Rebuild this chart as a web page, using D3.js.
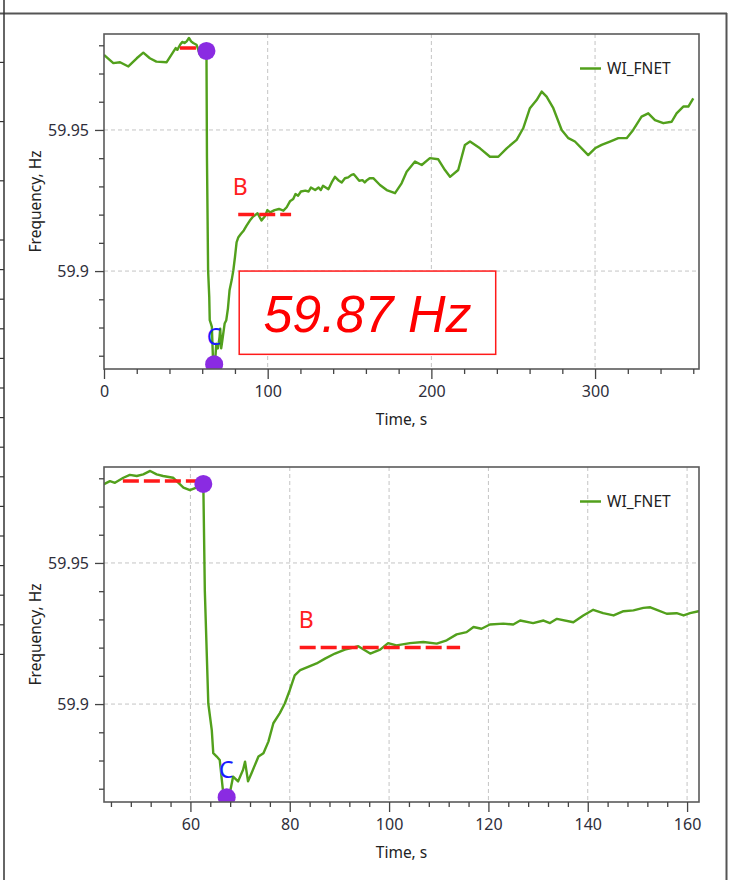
<!DOCTYPE html>
<html>
<head>
<meta charset="utf-8">
<script src="https://cdn.jsdelivr.net/npm/d3@7"></script>
<style>
  body { margin: 0; background: #fff; }
  svg { display: block; font-family: "Noto Sans", "Open Sans", sans-serif; }
</style>
</head>
<body>
<svg id="chart" width="731" height="880"></svg>
<script>
// WI_FNET frequency record, time in seconds, frequency in Hz
const times = [
  0, 5.7, 9.8, 14.9, 20, 24, 28, 32, 38.3,
  42.6, 43.8, 44.8, 46.5, 47.8, 49.2, 50.5, 51.9, 53.2, 54.5, 56.5, 58.6, 59.9, 61.2, 62.6,
  62.9, 63.6, 64.3, 64.6, 65.3, 65.9, 66.6, 67.3, 68.0, 68.6, 69.6, 70.6, 71.0, 71.6, 72.3,
  73.7, 74.7, 75.7, 76.7, 78.0, 79.0, 80.0, 81.0, 82.1, 83.7, 85.4, 87.1, 89.1, 91.1, 93.8,
  96.2, 98.2, 99.8, 101.5, 104.2, 106.9, 109.6, 111.6, 113.6, 115.6, 117.0, 118.6, 120.3,
  123.0, 125.0, 126.4, 129.0, 131.1, 132.4, 133.8, 137.1, 139.1, 141.1, 143.1, 145.2, 147.2,
  149.2, 151.2, 152.6, 153.9, 155.9, 157.9, 159.3, 160.6, 162.3,
  164.5, 168.6, 172.7, 177.8, 181.8, 184.9, 190, 194.1, 199.1, 204.2, 208.3, 211.4, 216.4,
  220.5, 223.6, 229.7, 235.8, 240.9, 246, 252.1, 256.1, 260.2, 264.3, 267.4, 270.4, 274.5,
  279.6, 283.7, 287.7, 291.8, 295.8, 300, 304, 309.1, 314.2, 319.3, 323.3, 328.4, 332.5,
  336.6, 341.7, 346.8, 349.8, 353.9, 357, 360
];
const freqs = [
  59.9766, 59.9737, 59.9740, 59.9725, 59.9754, 59.9774, 59.9754, 59.9742, 59.9740,
  59.9779, 59.9790, 59.9784, 59.9802, 59.9812, 59.9808, 59.9814, 59.9826, 59.9814, 59.9808, 59.9802, 59.9767, 59.9758, 59.9767, 59.9779,
  59.9402, 59.9002, 59.8908, 59.8826, 59.8814, 59.8802, 59.8685, 59.8667, 59.8690, 59.8743, 59.8726, 59.8767, 59.8796, 59.8726, 59.8755,
  59.8814, 59.8826, 59.8867, 59.8932, 59.8968, 59.9002, 59.9049, 59.9102, 59.9120, 59.9132, 59.9144, 59.9161, 59.9179, 59.9193, 59.9205,
  59.9179, 59.9193, 59.9216, 59.9208, 59.9216, 59.9220, 59.9214, 59.9226, 59.9247, 59.9255, 59.9273, 59.9267, 59.9282,
  59.9285, 59.9282, 59.9296, 59.9287, 59.9296, 59.9287, 59.9302, 59.9290, 59.9314, 59.9334, 59.9322, 59.9314, 59.9329,
  59.9332, 59.9341, 59.9343, 59.9334, 59.9320, 59.9322, 59.9314, 59.9322, 59.9329,
  59.9329, 59.9305, 59.9287, 59.9276, 59.9311, 59.9352, 59.9388, 59.9376, 59.9400, 59.9396, 59.9358, 59.9334, 59.9358,
  59.9447, 59.9459, 59.9435, 59.9405, 59.9405, 59.9435, 59.9465, 59.9506, 59.9577, 59.9606, 59.9636, 59.9618, 59.9577,
  59.9500, 59.9471, 59.9459, 59.9435, 59.9411, 59.9435, 59.9447, 59.9459, 59.9471, 59.9471, 59.9500, 59.9547, 59.9559,
  59.9535, 59.9524, 59.9529, 59.9559, 59.9583, 59.9583, 59.9612
];
const seriesName = "WI_FNET";

// Event markers: start of the drop (A) and the nadir (C)
const eventPoint = { t: 62.6, f: 59.978 };
const nadirPoint = { t: 67.3, f: 59.867 };
// Reference levels: pre-event (A) and settling (B)
const preLevel = { f: 59.979, t0: 46.4, t1: 61.6 };
const settleLevel = { f: 59.92, t0: 82, t1: 114.3 };
const labelB = { t: 83.3, f: 59.930, text: "B" };
const labelC = { t: 67.2, f: 59.877, text: "C" };

// Axis ticks
const yDomain = [59.8653, 59.984];
const yMajorTicks = [59.9, 59.95];
const yMinorTicks = d3.range(5987, 5999).map(v => v / 100);
const topXDomain = [0, 363.5];
const topXMajor = [0, 100, 200, 300];
const topXMinor = d3.range(0, 364, 20);
const botXDomain = [42.6, 162.4];
const botXMajor = [60, 80, 100, 120, 140, 160];
const botXMinor = d3.range(44, 163, 4);

const data = times.map((t, i) => ({ t, f: freqs[i] }));

const svg = d3.select("#chart");
const W = 731, H = 880;

// Surrounding window frame
const frameColor = "#555";
svg.append("line").attr("x1", 0).attr("x2", 727).attr("y1", 13.5).attr("y2", 13.5)
  .attr("stroke", frameColor).attr("stroke-width", 2);
svg.append("line").attr("x1", 4).attr("x2", 4).attr("y1", 0).attr("y2", H)
  .attr("stroke", "#333").attr("stroke-width", 1.5);
svg.append("line").attr("x1", 726.5).attr("x2", 726.5).attr("y1", 13).attr("y2", H)
  .attr("stroke", frameColor).attr("stroke-width", 2);
// ticks of the neighbouring axis at the left edge
const edgeTicks = d3.range(-6, 15).filter(k => k >= 0 || k % 2 === 0).map(k => 240 + k * 29.6);
svg.selectAll(".edge-tick").data(edgeTicks).join("line")
  .attr("x1", 0).attr("x2", 4).attr("y1", d => d).attr("y2", d => d)
  .attr("stroke", "#333").attr("stroke-width", 1.2);

let clipId = 0;
function panel(opt) {
  const { left, right, top, bottom, xDomain, xMajor, xMinor, showBox } = opt;
  const x = d3.scaleLinear().domain(xDomain).range([left, right]);
  const y = d3.scaleLinear().domain(yDomain).range([bottom, top]);
  const g = svg.append("g");

  const cid = "clip" + (clipId++);
  g.append("clipPath").attr("id", cid).append("rect")
    .attr("x", left).attr("y", top).attr("width", right - left).attr("height", bottom - top);

  // dashed grid
  const grid = g.append("g").attr("stroke", "#c4c4c4").attr("stroke-dasharray", "4,3").attr("stroke-width", 1);
  grid.selectAll(".gx").data(xMajor.filter(v => v > xDomain[0])).join("line")
    .attr("x1", d => x(d)).attr("x2", d => x(d)).attr("y1", top).attr("y2", bottom);
  grid.selectAll(".gy").data(yMajorTicks).join("line")
    .attr("x1", left).attr("x2", right).attr("y1", d => y(d)).attr("y2", d => y(d));

  const plot = g.append("g").attr("clip-path", `url(#${cid})`);

  // frequency trace
  plot.append("path").datum(data)
    .attr("fill", "none").attr("stroke", "#52a01c").attr("stroke-width", 2.4)
    .attr("stroke-linejoin", "round")
    .attr("d", d3.line().x(d => x(d.t)).y(d => y(d.f)));

  // reference levels
  [preLevel, settleLevel].forEach(l => {
    plot.append("line")
      .attr("x1", x(l.t0)).attr("x2", x(l.t1)).attr("y1", y(l.f)).attr("y2", y(l.f))
      .attr("stroke", "#ff1a1a").attr("stroke-width", 3.5).attr("stroke-dasharray", "16,5");
  });

  // event markers
  plot.selectAll(".marker").data([eventPoint, nadirPoint]).join("circle")
    .attr("cx", d => x(d.t)).attr("cy", d => y(d.f)).attr("r", 9)
    .attr("fill", "#8a2be2");

  plot.append("text").attr("x", x(labelB.t)).attr("y", y(labelB.f))
    .attr("text-anchor", "middle").attr("dominant-baseline", "central")
    .attr("font-size", 23).attr("fill", "#ff2020").text(labelB.text);
  plot.append("text").attr("x", x(labelC.t)).attr("y", y(labelC.f))
    .attr("text-anchor", "middle").attr("dominant-baseline", "central")
    .attr("font-size", 23).attr("fill", "#1a1aff").text(labelC.text);

  if (showBox) {
    const bx0 = x(82.6), bx1 = x(239.3), by0 = y(59.9), by1 = y(59.8705);
    g.append("rect").attr("x", bx0).attr("y", by0).attr("width", bx1 - bx0).attr("height", by1 - by0)
      .attr("fill", "#fff").attr("stroke", "#ff1a1a").attr("stroke-width", 1.5);
    g.append("text").attr("x", (bx0 + bx1) / 2).attr("y", by0 + (by1 - by0) / 2 + 19)
      .attr("text-anchor", "middle").attr("font-family", "'Liberation Sans', Arial, sans-serif")
      .attr("font-style", "italic").attr("font-size", 52).attr("fill", "#ff0000")
      .text(d3.format(".2f")(nadirPoint.f) + " Hz");
  }

  // legend
  g.append("line").attr("x1", right - 119).attr("x2", right - 98)
    .attr("y1", top + 34.5).attr("y2", top + 34.5)
    .attr("stroke", "#52a01c").attr("stroke-width", 2.5);
  g.append("text").attr("x", right - 92).attr("y", top + 40)
    .attr("font-size", 15.5).attr("fill", "#222").text(seriesName);

  // plot frame
  g.append("rect").attr("x", left).attr("y", top).attr("width", right - left).attr("height", bottom - top)
    .attr("fill", "none").attr("stroke", "#5a5a5a").attr("stroke-width", 1.6);

  // axes
  const styleAxis = sel => {
    sel.select(".domain").remove();
    sel.selectAll(".tick line").attr("stroke", "#444").attr("stroke-width", 1.3);
    sel.selectAll(".tick text").attr("fill", "#2e2e3a").attr("font-size", 16)
      .attr("font-family", "'Noto Sans', 'Open Sans', sans-serif");
  };
  g.append("g").attr("transform", `translate(0,${bottom})`)
    .call(d3.axisBottom(x).tickValues(xMinor.filter(v => !xMajor.includes(v))).tickSize(5).tickFormat(""))
    .call(styleAxis);
  g.append("g").attr("transform", `translate(0,${bottom})`)
    .call(d3.axisBottom(x).tickValues(xMajor).tickSize(10).tickPadding(7).tickFormat(d3.format("d")))
    .call(styleAxis);
  g.append("g").attr("transform", `translate(${left},0)`)
    .call(d3.axisLeft(y).tickValues(yMinorTicks.filter(v => !yMajorTicks.some(m => Math.abs(m - v) < 1e-9))).tickSize(5).tickFormat(""))
    .call(styleAxis);
  g.append("g").attr("transform", `translate(${left},0)`)
    .call(d3.axisLeft(y).tickValues(yMajorTicks).tickSize(9).tickPadding(6).tickFormat(d => String(+d.toFixed(2))))
    .call(styleAxis);

  // axis titles
  g.append("text").attr("x", (left + right) / 2).attr("y", bottom + 56)
    .attr("text-anchor", "middle").attr("font-size", 15.5).attr("fill", "#222").text("Time, s");
  g.append("text").attr("transform", `translate(41,${(top + bottom) / 2}) rotate(-90)`)
    .attr("text-anchor", "middle").attr("font-size", 15.5).attr("fill", "#222").text("Frequency, Hz");
}

panel({ left: 104, right: 699, top: 34, bottom: 369, xDomain: topXDomain, xMajor: topXMajor, xMinor: topXMinor, showBox: true });
panel({ left: 104, right: 699, top: 467, bottom: 802, xDomain: botXDomain, xMajor: botXMajor, xMinor: botXMinor, showBox: false });
</script>
</body>
</html>
